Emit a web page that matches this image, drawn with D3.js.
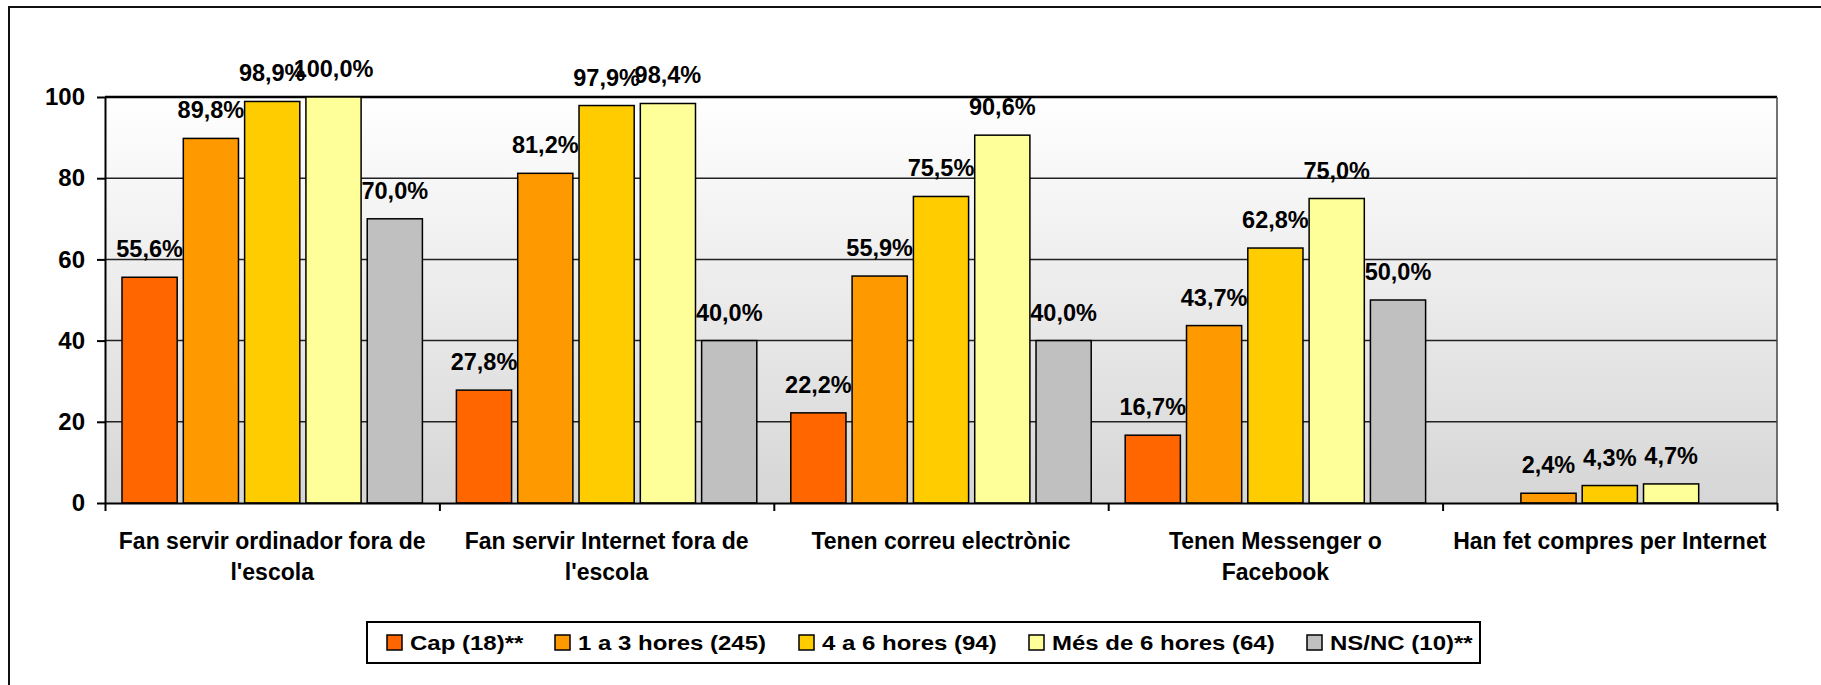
<!DOCTYPE html>
<html>
<head>
<meta charset="utf-8">
<script src="https://cdn.jsdelivr.net/npm/d3@7"></script>
<style>
  body { margin: 0; background: #fff; }
  svg text { font-family: "Liberation Sans", Arial, sans-serif; font-weight: bold; fill: #000; }
</style>
</head>
<body>
<div id="chart"></div>
<script>
// Data
const categories = [
    "Fan servir ordinador fora de l'escola",
    "Fan servir Internet fora de l'escola",
    "Tenen correu electrònic",
    "Tenen Messenger o Facebook",
    "Han fet compres per Internet"
];
const categoryLines = [
    ["Fan servir ordinador fora de", "l'escola"],
    ["Fan servir Internet fora de", "l'escola"],
    ["Tenen correu electrònic"],
    ["Tenen Messenger o", "Facebook"],
    ["Han fet compres per Internet"]
];
const seriesNames = ["Cap (18)**", "1 a 3 hores (245)", "4 a 6 hores (94)", "Més de 6 hores (64)", "NS/NC (10)**"];
const seriesColors = ["#ff6600", "#ff9900", "#ffcc00", "#ffff99", "#c0c0c0"];
const capValues = [55.6, 27.8, 22.2, 16.7, null];
const oneToThreeValues = [89.8, 81.2, 55.9, 43.7, 2.4];
const fourToSixValues = [98.9, 97.9, 75.5, 62.8, 4.3];
const moreThanSixValues = [100.0, 98.4, 90.6, 75.0, 4.7];
const nsncValues = [70.0, 40.0, 40.0, 50.0, null];
const yTicks = [0, 20, 40, 60, 80, 100];

const seriesValues = [capValues, oneToThreeValues, fourToSixValues, moreThanSixValues, nsncValues];

{
    const width = 1821, height = 685;
    const plot = { left: 105, right: 1777, top: 97, bottom: 503 };

    const svg = d3.select("#chart").append("svg")
        .attr("width", width)
        .attr("height", height);

    // Background gradient for the plot area
    const grad = svg.append("defs").append("linearGradient")
        .attr("id", "bg").attr("x1", 0).attr("y1", 0).attr("x2", 0).attr("y2", 1);
    grad.append("stop").attr("offset", "0%").attr("stop-color", "#ffffff");
    grad.append("stop").attr("offset", "100%").attr("stop-color", "#d6d6d6");

    // Outer frame (runs off the right and bottom edges)
    svg.append("rect")
        .attr("x", 9).attr("y", 7)
        .attr("width", 2000).attr("height", 1000)
        .attr("fill", "none")
        .attr("stroke", "#111").attr("stroke-width", 2);

    const x0 = d3.scaleBand().domain(categories).range([plot.left, plot.right]).padding(0);
    const x1 = d3.scaleBand().domain(seriesNames)
        .range([17, x0.bandwidth() - 17])
        .paddingInner(0.1);
    const y = d3.scaleLinear().domain([0, 100]).range([plot.bottom, plot.top]);

    svg.append("rect")
        .attr("x", plot.left).attr("y", plot.top)
        .attr("width", plot.right - plot.left).attr("height", plot.bottom - plot.top)
        .attr("fill", "url(#bg)");

    // Grid lines
    svg.append("g")
        .selectAll("line")
        .data(yTicks.filter(d => d > 0))
        .join("line")
        .attr("x1", plot.left).attr("x2", plot.right)
        .attr("y1", d => y(d)).attr("y2", d => y(d))
        .attr("stroke", d => d === 100 ? "#000" : "#222")
        .attr("stroke-width", d => d === 100 ? 2.5 : 1.5);

    svg.append("line")
        .attr("x1", plot.right).attr("x2", plot.right)
        .attr("y1", plot.top).attr("y2", plot.bottom)
        .attr("stroke", "#444").attr("stroke-width", 1.5);

    // Bars
    const rows = [];
    categories.forEach((c, i) => {
        seriesNames.forEach((s, j) => {
            const v = seriesValues[j][i];
            if (v != null) rows.push({ cat: c, series: s, color: seriesColors[j], value: v });
        });
    });

    svg.append("g")
        .selectAll("rect")
        .data(rows)
        .join("rect")
        .attr("x", d => x0(d.cat) + x1(d.series))
        .attr("y", d => y(d.value))
        .attr("width", x1.bandwidth())
        .attr("height", d => y(0) - y(d.value))
        .attr("fill", d => d.color)
        .attr("stroke", "#000")
        .attr("stroke-width", 1.5);

    // Value labels
    const fmt = v => v.toFixed(1).replace(".", ",") + "%";
    svg.append("g")
        .selectAll("text")
        .data(rows)
        .join("text")
        .attr("x", d => x0(d.cat) + x1(d.series) + x1.bandwidth() / 2)
        .attr("y", d => y(d.value) - 20)
        .attr("text-anchor", "middle")
        .style("font-size", "23.5px")
        .text(d => fmt(d.value));

    // Y axis
    const yAxis = svg.append("g")
        .attr("transform", `translate(${plot.left},0)`)
        .call(d3.axisLeft(y).tickValues(yTicks).tickSize(8).tickSizeOuter(0).tickPadding(12));
    yAxis.selectAll("line, path").attr("stroke", "#000").attr("stroke-width", 2);
    yAxis.selectAll("text").style("font-size", "24px");

    // X axis: ticks at category boundaries
    const xEdge = d3.scaleLinear().domain([0, categories.length]).range([plot.left, plot.right]);
    const xAxis = svg.append("g")
        .attr("transform", `translate(0,${plot.bottom})`)
        .call(d3.axisBottom(xEdge).tickValues(d3.range(categories.length + 1))
            .tickSize(8).tickSizeOuter(0).tickFormat(""));
    xAxis.selectAll("line, path").attr("stroke", "#000").attr("stroke-width", 2);

    // Category labels
    svg.append("g")
        .selectAll("text")
        .data(categories)
        .join("text")
        .attr("x", d => x0(d) + x0.bandwidth() / 2)
        .attr("y", 549)
        .attr("text-anchor", "middle")
        .style("font-size", "23px")
        .selectAll("tspan")
        .data((d, i) => categoryLines[i])
        .join("tspan")
        .attr("x", function () { return this.parentNode.getAttribute("x"); })
        .attr("dy", (d, i) => i === 0 ? 0 : 31)
        .text(d => d);

    // Legend
    const legendX = [387, 555, 799, 1029, 1307];
    const legend = svg.append("g");
    legend.append("rect")
        .attr("x", 367).attr("y", 622)
        .attr("width", 1480 - 367).attr("height", 41)
        .attr("fill", "#fff")
        .attr("stroke", "#000").attr("stroke-width", 2);
    const items = legend.selectAll("g.item")
        .data(seriesNames)
        .join("g")
        .attr("class", "item")
        .attr("transform", (d, i) => `translate(${legendX[i]},635)`);
    items.append("rect")
        .attr("width", 15).attr("height", 15)
        .attr("fill", (d, i) => seriesColors[i])
        .attr("stroke", "#000").attr("stroke-width", 1.5);
    items.append("text")
        .attr("transform", "translate(23,14.5) scale(1,0.85)")
        .style("font-size", "24px")
        .text(d => d);
}
</script>
</body>
</html>
